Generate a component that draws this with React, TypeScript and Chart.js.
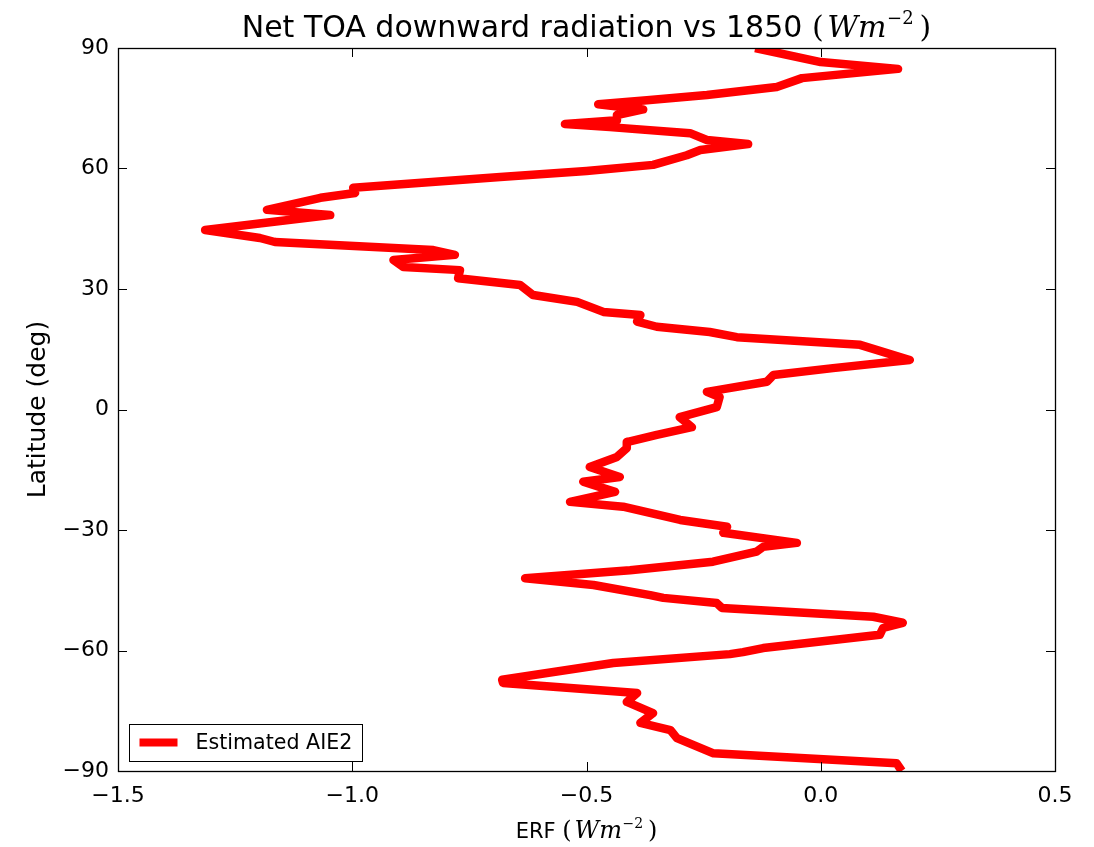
import React, { useEffect, useRef } from "react";
import { Chart, registerables } from "chart.js";

Chart.register(...registerables);

// Zonal-mean ERF profile (Wm^-2) for the estimated AIE2 case, north to south
const latitude: number[] = [
  90, 86.5, 84.8, 82.5, 80.3, 78.3, 77.0, 76.0, 74.7, 73.3, 72.0, 71.1, 70.3, 68.8, 67.1, 66.1,
  64.6, 63.3, 60.9, 59.4, 57.9, 55.2, 53.9, 52.7, 49.7, 48.4, 44.7, 42.7, 41.7, 39.7, 38.5, 37.2,
  35.5, 34.7, 32.7, 31.0, 28.5, 26.8, 24.3, 23.5, 21.9, 20.6, 19.3, 18.0, 16.1, 12.3, 10.3, 8.6,
  6.9, 4.4, 3.1, 0.6, -1.9, -4.4, -6.3, -8.1, -9.6, -11.8, -14.3, -16.8, -18.0, -20.5, -23.0,
  -24.2, -27.5, -29.2, -30.7, -33.2, -34.2, -35.4, -37.9, -40.0, -42.0, -43.7, -46.2, -46.9,
  -48.2, -49.4, -51.6, -53.1, -54.4, -56.1, -59.4, -60.4, -60.9, -63.1, -67.3, -68.1, -70.6,
  -72.8, -75.6, -78.0, -79.8, -81.8, -85.6, -88.1, -90,
];

const erfAIE2: number[] = [
  -0.14, 0.0, 0.165, -0.04, -0.094, -0.243, -0.371, -0.475, -0.379, -0.435, -0.435, -0.546, -0.45,
  -0.279, -0.243, -0.155, -0.257, -0.286, -0.358, -0.5, -0.684, -0.998, -0.994, -1.068, -1.182,
  -1.047, -1.314, -1.197, -1.165, -0.827, -0.781, -0.912, -0.891, -0.77, -0.774, -0.642, -0.614,
  -0.52, -0.464, -0.385, -0.392, -0.35, -0.237, -0.179, 0.084, 0.19, 0.026, -0.101, -0.115, -0.243,
  -0.216, -0.222, -0.301, -0.275, -0.35, -0.414, -0.414, -0.435, -0.493, -0.429, -0.507, -0.439,
  -0.535, -0.422, -0.3, -0.2, -0.208, -0.051, -0.123, -0.137, -0.23, -0.407, -0.631, -0.485,
  -0.364, -0.336, -0.222, -0.211, 0.112, 0.175, 0.133, 0.126, -0.123, -0.166, -0.194, -0.443,
  -0.68, -0.678, -0.392, -0.414, -0.358, -0.385, -0.321, -0.307, -0.229, 0.162, 0.173,
];

const xTicks: number[] = [-1.5, -1.0, -0.5, 0.0, 0.5];
const yTicks: number[] = [-90, -60, -30, 0, 30, 60, 90];

const seriesLabel = "Estimated AIE2";
const titleText = "Net TOA downward radiation vs 1850";
const xLabelText = "ERF";
const yLabelText = "Latitude (deg)";

const SANS = "'DejaVu Sans', sans-serif";
const SERIF = "'DejaVu Serif', 'Liberation Serif', serif";
const LINE_RED = "#ff0000";

const fmt = (v: number, digits: number) => v.toFixed(digits).replace("-", "\u2212");

type Seg = { text: string; font: string; dy?: number; gap?: number };

// Draws a run of differently styled pieces centred on (cx, baseline)
function drawRich(ctx: CanvasRenderingContext2D, segs: Seg[], cx: number, baseline: number) {
  let total = 0;
  const widths = segs.map((s) => {
    ctx.font = s.font;
    const w = ctx.measureText(s.text).width + (s.gap || 0);
    total += w;
    return w;
  });
  let x = cx - total / 2;
  ctx.textAlign = "left";
  ctx.textBaseline = "alphabetic";
  segs.forEach((s, i) => {
    ctx.font = s.font;
    ctx.fillText(s.text, x, baseline + (s.dy || 0));
    x += widths[i];
  });
}

// "(Wm^-2)" unit written in math style
function unitSegs(size: number): Seg[] {
  return [
    { text: "(", font: `${size}px ${SERIF}`, gap: size * 0.12 },
    { text: "Wm", font: `italic ${size}px ${SERIF}`, gap: size * 0.02 },
    { text: "\u22122", font: `${Math.round(size * 0.6)}px ${SERIF}`, dy: -Math.round(size * 0.42), gap: size * 0.2 },
    { text: ")", font: `${size}px ${SERIF}` },
  ];
}

const framePlugin = {
  id: "frameTicks",
  afterDatasetsDraw(chart: any) {
    const { ctx, chartArea: a, scales } = chart;
    const xs = scales.x;
    const ys = scales.y;
    ctx.save();
    ctx.strokeStyle = "#000";
    ctx.lineWidth = 1;
    const tl = 9;
    ctx.beginPath();
    xTicks.forEach((v) => {
      const px = Math.round(xs.getPixelForValue(v)) + 0.5;
      ctx.moveTo(px, a.bottom);
      ctx.lineTo(px, a.bottom - tl);
      ctx.moveTo(px, a.top);
      ctx.lineTo(px, a.top + tl);
    });
    yTicks.forEach((v) => {
      const py = Math.round(ys.getPixelForValue(v)) + 0.5;
      ctx.moveTo(a.left, py);
      ctx.lineTo(a.left + tl, py);
      ctx.moveTo(a.right, py);
      ctx.lineTo(a.right - tl, py);
    });
    ctx.stroke();
    ctx.lineWidth = 1.3;
    ctx.strokeRect(Math.round(a.left) + 0.5, Math.round(a.top) + 0.5, Math.round(a.right - a.left), Math.round(a.bottom - a.top));
    ctx.restore();
  },
  afterDraw(chart: any) {
    const { ctx, chartArea: a } = chart;
    ctx.save();
    ctx.fillStyle = "#000";

    // title
    drawRich(ctx, [{ text: titleText + " ", font: `30px ${SANS}` }, ...unitSegs(30)], (a.left + a.right) / 2, 37);

    // x axis label
    drawRich(ctx, [{ text: xLabelText + " ", font: `21px ${SANS}` }, ...unitSegs(24)], (a.left + a.right) / 2, 838);

    // y axis label
    ctx.save();
    ctx.translate(45, (a.top + a.bottom) / 2);
    ctx.rotate(-Math.PI / 2);
    ctx.font = `25px ${SANS}`;
    ctx.textAlign = "center";
    ctx.textBaseline = "alphabetic";
    ctx.fillText(yLabelText, 0, 0);
    ctx.restore();

    // legend, lower left inside the axes
    const bx = a.left + 11.5;
    const by = a.bottom - 46.5;
    ctx.fillStyle = "#fff";
    ctx.fillRect(bx, by, 233, 37);
    ctx.strokeStyle = "#000";
    ctx.lineWidth = 1;
    ctx.strokeRect(bx, by, 233, 37);
    ctx.strokeStyle = LINE_RED;
    ctx.lineWidth = 8;
    ctx.beginPath();
    ctx.moveTo(bx + 10, by + 18);
    ctx.lineTo(bx + 48, by + 18);
    ctx.stroke();
    ctx.fillStyle = "#000";
    ctx.font = `20.6px ${SANS}`;
    ctx.textAlign = "left";
    ctx.textBaseline = "middle";
    ctx.fillText(seriesLabel, bx + 66, by + 19);
    ctx.restore();
  },
};

export default function App() {
  const canvasRef = useRef<HTMLCanvasElement | null>(null);

  useEffect(() => {
    if (!canvasRef.current) return;
    const points = latitude.map((lat, i) => ({ x: erfAIE2[i], y: lat }));
    const chart = new Chart(canvasRef.current, {
      type: "line",
      data: {
        datasets: [
          {
            label: seriesLabel,
            data: points,
            borderColor: LINE_RED,
            backgroundColor: LINE_RED,
            borderWidth: 8.5,
            pointRadius: 0,
            tension: 0,
            fill: false,
            borderJoinStyle: "round",
            borderCapStyle: "butt",
            clip: 0,
          } as any,
        ],
      },
      options: {
        animation: false,
        responsive: true,
        maintainAspectRatio: false,
        layout: { padding: { top: 48, right: 39, left: 0, bottom: 0 } },
        plugins: {
          legend: { display: false },
          tooltip: { enabled: false },
          title: { display: false },
        },
        scales: {
          x: {
            type: "linear",
            min: -1.5,
            max: 0.5,
            afterBuildTicks: (s: any) => {
              s.ticks = xTicks.map((v) => ({ value: v }));
            },
            afterFit: (s: any) => {
              s.height = 76;
            },
            grid: { display: false, drawTicks: false },
            border: { display: false },
            ticks: {
              color: "#000",
              padding: 12,
              maxRotation: 0,
              font: { family: "DejaVu Sans", size: 22 },
              callback: (v: any) => fmt(Number(v), 1),
            },
          },
          y: {
            type: "linear",
            min: -90,
            max: 90,
            afterBuildTicks: (s: any) => {
              s.ticks = yTicks.map((v) => ({ value: v }));
            },
            afterFit: (s: any) => {
              s.width = 118;
            },
            grid: { display: false, drawTicks: false },
            border: { display: false },
            ticks: {
              color: "#000",
              padding: 9,
              font: { family: "DejaVu Sans", size: 22 },
              callback: (v: any) => fmt(Number(v), 0),
            },
          },
        },
      },
      plugins: [framePlugin],
    });
    return () => chart.destroy();
  }, []);

  return (
    <div style={{ position: "fixed", left: 0, top: 0, width: 1094, height: 847, background: "#fff" }}>
      <canvas ref={canvasRef} />
    </div>
  );
}
